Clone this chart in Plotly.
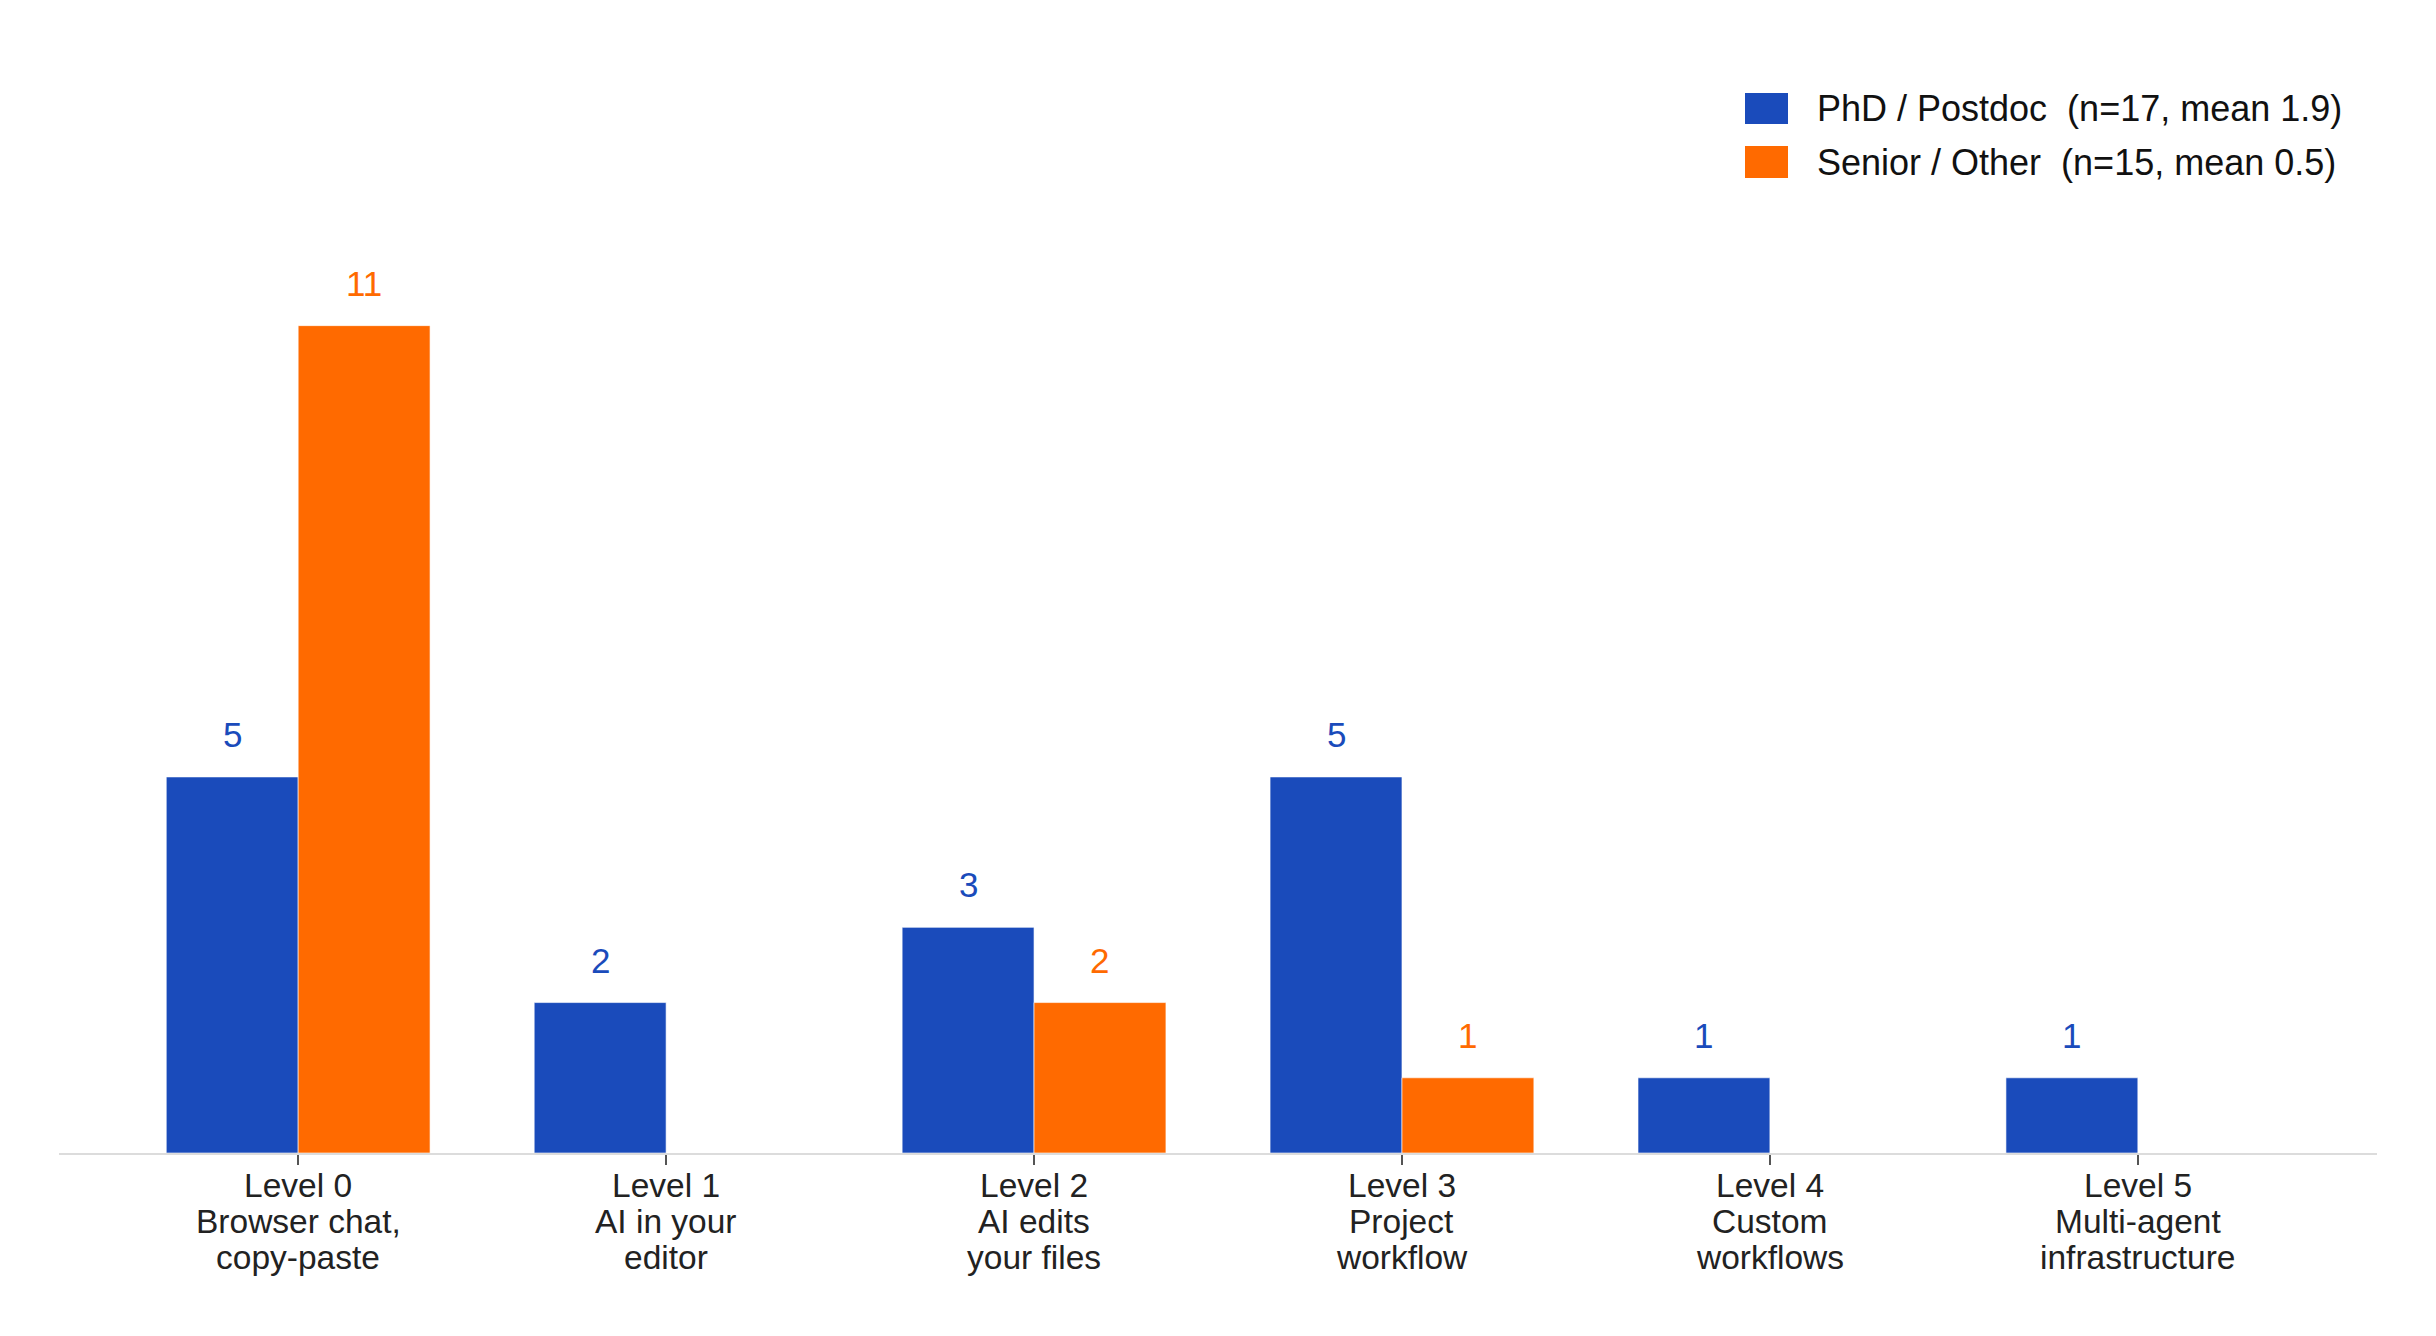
import plotly.graph_objects as go

category_lines = [["Level 0", "Browser chat,", "copy-paste"],
                  ["Level 1", "AI in your", "editor"],
                  ["Level 2", "AI edits", "your files"],
                  ["Level 3", "Project", "workflow"],
                  ["Level 4", "Custom", "workflows"],
                  ["Level 5", "Multi-agent", "infrastructure"]]
phd_values = [5, 2, 3, 5, 1, 1]
senior_values = [11, 0, 2, 1, 0, 0]
series_names = ["PhD / Postdoc  (n=17, mean 1.9)", "Senior / Other  (n=15, mean 0.5)"]
colors = ["#1A4BBB", "#FF6A00"]

FONT = "Liberation Sans, Arial, Helvetica, sans-serif"
W, H = 2436, 1336
OFF = 8  # page body margin
ML, MR, MT, MB = 59 - OFF, 59 + OFF, 100 - OFF, 183 + OFF
PW, PH = W - ML - MR, H - MT - MB

xs = list(range(len(category_lines)))
fig = go.Figure()
for vals, name, col in zip([phd_values, senior_values], series_names, colors):
    fig.add_trace(go.Bar(x=xs, y=vals, name=name, marker_color=col,
                         marker_line=dict(color="rgba(255,255,255,0.6)", width=1),
                         showlegend=False))

bargap = 0.283
bw = (1 - bargap) / 2
annotations = []
for k, (vals, col) in enumerate(zip([phd_values, senior_values], colors)):
    off = (-0.5 + k) * bw
    for i, v in enumerate(vals):
        if v:
            annotations.append(dict(x=i + off, y=v, xref="x", yref="y", text=str(v),
                                    showarrow=False, yanchor="bottom", yshift=21,
                                    font=dict(family=FONT, size=35, color=col)))

# page-pixel helpers (page coords include the 8px body offset)
def px_x(p):
    return (p - OFF - ML) / PW

def px_y(p):
    return (H - MB - (p - OFF)) / PH

# category labels, one annotation per line for tight line spacing
line_y = [1185, 1221, 1257]
for i, lines in enumerate(category_lines):
    for ly, txt in zip(line_y, lines):
        annotations.append(dict(x=i, y=px_y(ly), xref="x", yref="paper", text=txt,
                                showarrow=False, yanchor="middle", xanchor="center",
                                font=dict(family=FONT, size=33.5, color="#222222")))

# custom legend
shapes = []
rows = [(93, 124), (146, 178)]
for (y0, y1), name, col in zip(rows, series_names, colors):
    shapes.append(dict(type="rect", xref="paper", yref="paper",
                       x0=px_x(1745), x1=px_x(1788), y0=px_y(y1), y1=px_y(y0),
                       fillcolor=col, line=dict(width=0)))
    annotations.append(dict(x=px_x(1815), y=px_y((y0 + y1) / 2), xref="paper", yref="paper",
                            text=name, showarrow=False, xanchor="left", yanchor="middle",
                            font=dict(family=FONT, size=36, color="#111111")))

fig.update_layout(
    width=W, height=H,
    margin=dict(l=ML, r=MR, t=MT, b=MB),
    paper_bgcolor="white", plot_bgcolor="white",
    barmode="group", bargap=bargap, bargroupgap=0,
    font=dict(family=FONT, size=30, color="#222222"),
    xaxis=dict(range=[-0.65, len(category_lines) - 0.35], tickmode="array", tickvals=xs,
               showticklabels=False, showline=True, linecolor="#dcdcdc", linewidth=2,
               ticks="outside", ticklen=10, tickwidth=1.5, tickcolor="#555555",
               showgrid=False, zeroline=False),
    yaxis=dict(range=[0, 14], visible=False, showgrid=False, zeroline=False),
    annotations=annotations, shapes=shapes,
)
fig.write_html("out.html")
